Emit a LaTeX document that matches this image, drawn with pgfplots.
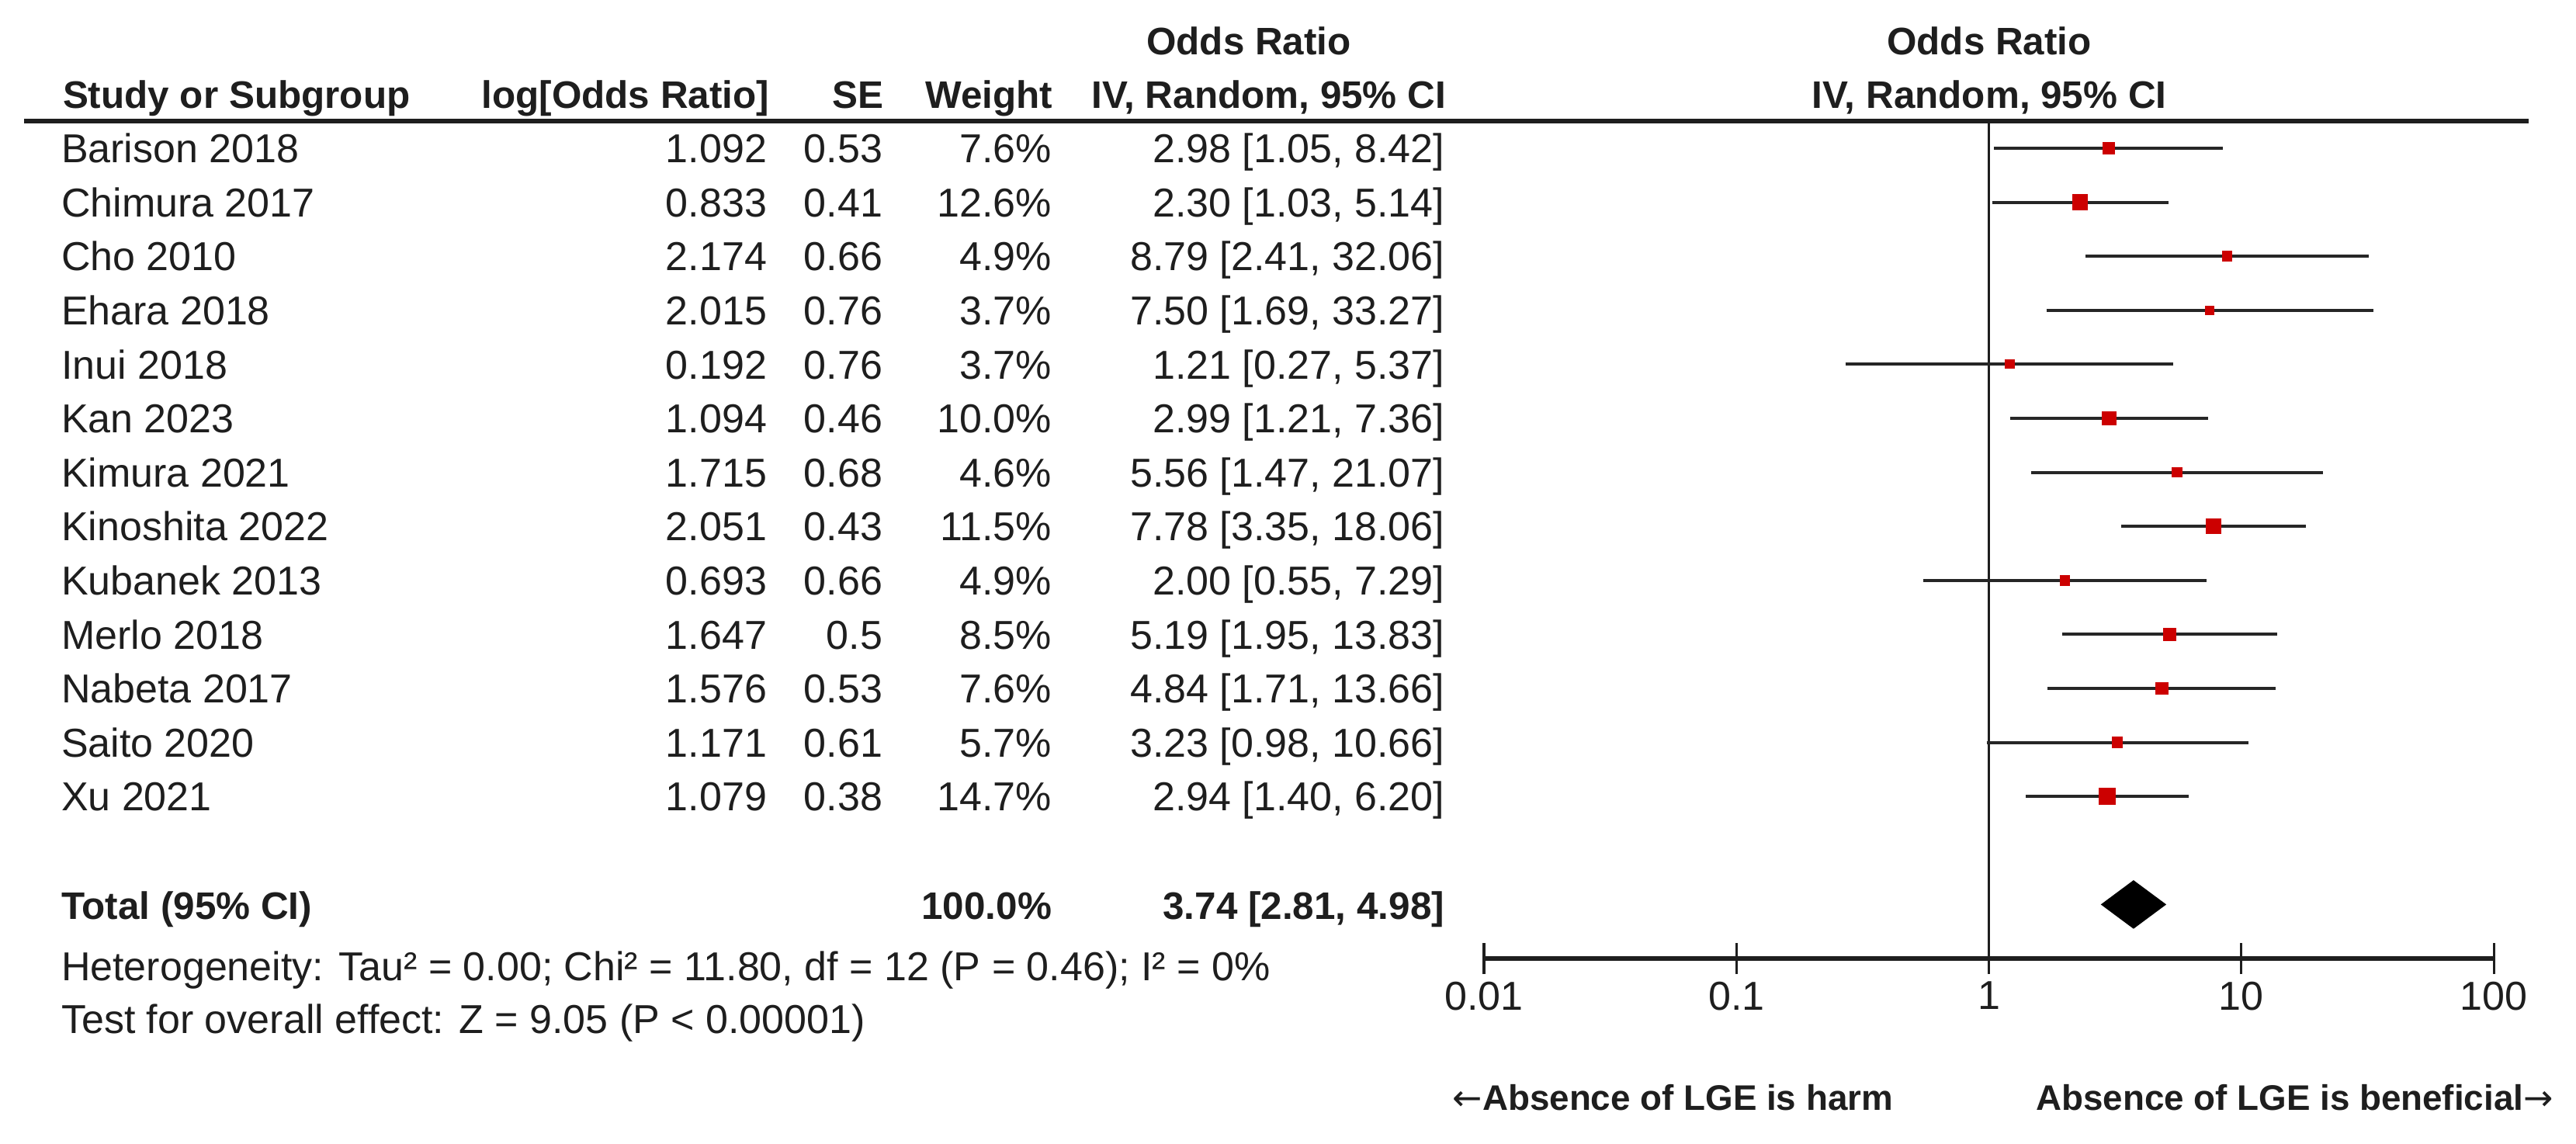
\documentclass[border=0pt]{standalone}
\usepackage{fontspec}
\setmainfont{Liberation Sans}
\newfontfamily\arrowfont{DejaVu Sans}
\usepackage{pgfplots}
\usepackage{pgfplotstable}
\pgfplotsset{compat=1.18}

\definecolor{mred}{RGB}{204,0,0}
\definecolor{ink}{RGB}{30,30,30}

% study table: row, odds ratio, weight (%)
\pgfplotstableread{
row  or    w
1    2.98  7.6
2    2.30  12.6
3    8.79  4.9
4    7.50  3.7
5    1.21  3.7
6    2.99  10.0
7    5.56  4.6
8    7.78  11.5
9    2.00  4.9
10   5.19  8.5
11   4.84  7.6
12   3.23  5.7
13   2.94  14.7
}\studies

% one text row of the table; y in px, baseline below the row centre
\newcommand\studyrow[6]{%
  \node[L] at (78,{209.6+(#1-1)*69.6}) {#2};
  \node[R] at (989,{209.6+(#1-1)*69.6}) {#3};
  \node[R] at (1138,{209.6+(#1-1)*69.6}) {#4};
  \node[R] at (1356,{209.6+(#1-1)*69.6}) {#5};
  \node[R] at (1862,{209.6+(#1-1)*69.6}) {#6};
}
\newcommand\hd{\fontsize{9.5}{11}\selectfont\bfseries}

\begin{document}
\begin{tikzpicture}
\path[use as bounding box] (0,0) rectangle (638.24pt,-283.26pt);

\begin{axis}[
  at={(367.68pt,-237.49pt)}, anchor=south west,
  scale only axis,
  width=250.2pt, height=207.45pt,
  xmode=log, xmin=0.01, xmax=100,
  ymin=-16, ymax=-0.5,
  axis x line*=bottom, axis y line=none,
  axis line style={line width=1.1pt, ink},
  xtick={0.01,0.1,1,10,100},
  xticklabels={0.01,0.1,1,10,100},
  xminorticks=false,
  tick align=center,
  major tick length=7.7pt,
  tick style={line width=0.6pt, ink},
  ticklabel style={font=\fontsize{10}{12}\selectfont, text=ink},
  xticklabel style={yshift=1.6pt},
  /pgf/number format/assume math mode=true,
  clip=false,
]
% line of no effect
\addplot[line width=0.55pt, ink] coordinates {(1,-0.5) (1,-16)};

% confidence intervals
\addplot[line width=0.8pt, black!85, unbounded coords=jump] table {
x y
1.05 -1
8.42 -1
nan nan
1.03 -2
5.14 -2
nan nan
2.41 -3
32.06 -3
nan nan
1.69 -4
33.27 -4
nan nan
0.27 -5
5.37 -5
nan nan
1.21 -6
7.36 -6
nan nan
1.47 -7
21.07 -7
nan nan
3.35 -8
18.06 -8
nan nan
0.55 -9
7.29 -9
nan nan
1.95 -10
13.83 -10
nan nan
1.71 -11
13.66 -11
nan nan
0.98 -12
10.66 -12
nan nan
1.40 -13
6.20 -13
};

% point estimates, box size by weight
\addplot[scatter, only marks, mark=square*,
  scatter/use mapped color={draw=mred, fill=mred},
  visualization depends on={sqrt(\thisrow{w}) \as \sw},
  scatter/@pre marker code/.append style={/tikz/mark size=0.5*\sw}]
  table[x=or, y expr=-\thisrow{row}] {\studies};

% pooled estimate
\addplot[fill=black, draw=black] coordinates {
  (2.81,-15) (3.74,-14.569) (4.98,-15) (3.74,-15.431)} -- cycle;
\end{axis}

\begin{scope}[x=0.1923pt, y=-0.1923pt,
  every node/.style={inner sep=0pt, font=\fontsize{10}{12}\selectfont, text=ink},
  L/.style={anchor=base west}, R/.style={anchor=base east}, C/.style={anchor=base}]
\draw[line width=1pt, ink] (31,156) -- (3258,156);

\node[C, font=\hd] at (1609,70.4) {Odds Ratio};
\node[C, font=\hd] at (2563,70.4) {Odds Ratio};
\node[L, font=\hd] at (80,140) {Study or Subgroup};
\node[R, font=\hd] at (992,140) {log[Odds Ratio]};
\node[R, font=\hd] at (1139,140) {SE};
\node[R, font=\hd] at (1357,140) {Weight};
\node[R, font=\hd] at (1864,140) {IV, Random, 95\% CI};
\node[C, font=\hd] at (2563,140) {IV, Random, 95\% CI};

\studyrow{1}{Barison 2018}{1.092}{0.53}{7.6\%}{2.98 [1.05, 8.42]}
\studyrow{2}{Chimura 2017}{0.833}{0.41}{12.6\%}{2.30 [1.03, 5.14]}
\studyrow{3}{Cho 2010}{2.174}{0.66}{4.9\%}{8.79 [2.41, 32.06]}
\studyrow{4}{Ehara 2018}{2.015}{0.76}{3.7\%}{7.50 [1.69, 33.27]}
\studyrow{5}{Inui 2018}{0.192}{0.76}{3.7\%}{1.21 [0.27, 5.37]}
\studyrow{6}{Kan 2023}{1.094}{0.46}{10.0\%}{2.99 [1.21, 7.36]}
\studyrow{7}{Kimura 2021}{1.715}{0.68}{4.6\%}{5.56 [1.47, 21.07]}
\studyrow{8}{Kinoshita 2022}{2.051}{0.43}{11.5\%}{7.78 [3.35, 18.06]}
\studyrow{9}{Kubanek 2013}{0.693}{0.66}{4.9\%}{2.00 [0.55, 7.29]}
\studyrow{10}{Merlo 2018}{1.647}{0.5}{8.5\%}{5.19 [1.95, 13.83]}
\studyrow{11}{Nabeta 2017}{1.576}{0.53}{7.6\%}{4.84 [1.71, 13.66]}
\studyrow{12}{Saito 2020}{1.171}{0.61}{5.7\%}{3.23 [0.98, 10.66]}
\studyrow{13}{Xu 2021}{1.079}{0.38}{14.7\%}{2.94 [1.40, 6.20]}

\node[L, font=\hd] at (78,1184) {Total (95\% CI)};
\node[R, font=\hd] at (1356,1184) {100.0\%};
\node[R, font=\hd] at (1862,1184) {3.74 [2.81, 4.98]};
\node[L] at (78,1263.6) {Heterogeneity: Tau² = 0.00; Chi² = 11.80, df = 12 (P = 0.46); I² = 0\%};
\node[L] at (78,1331.6) {Test for overall effect: Z = 9.05 (P < 0.00001)};

\node[R, font=\fontsize{8.8}{10}\selectfont\bfseries] at (2440,1430.6) {{\arrowfont\mdseries ←}Absence of LGE is harm};
\node[L, font=\fontsize{8.8}{10}\selectfont\bfseries] at (2622,1430.6) {Absence of LGE is beneficial{\arrowfont\mdseries →}};
\end{scope}
\end{tikzpicture}
\end{document}
